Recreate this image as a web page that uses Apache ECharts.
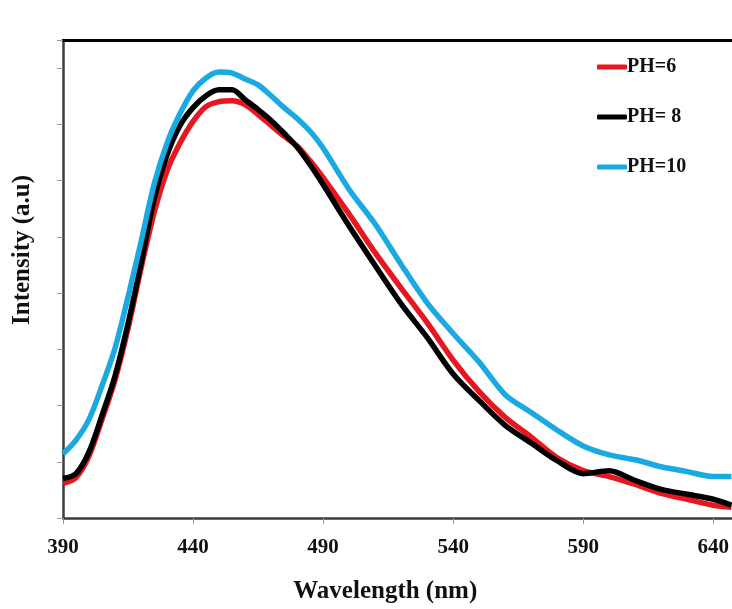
<!DOCTYPE html>
<html>
<head>
<meta charset="utf-8">
<script src="https://cdn.jsdelivr.net/npm/echarts@6/dist/echarts.min.js"></script>
<style>
    html, body { margin: 0; padding: 0; background: #fff; }
    #chart { width: 732px; height: 609px; }
</style>
</head>
<body>
<div id="chart"></div>
<script>
    // wavelength (nm) for every sample
    const wavelengths = [390, 395, 400, 405, 410, 415, 420, 425, 430, 435, 440, 445, 450, 455, 460, 465, 470, 475, 480, 485, 490,
        500, 510, 520, 530, 540, 550, 560, 570, 580, 590, 600, 610, 620, 630, 640, 647];

    // intensity (a.u)
    const ph6 = [0.614, 0.719, 1.105, 1.754, 2.456, 3.368, 4.439, 5.421, 6.175, 6.667, 7.053, 7.316, 7.404, 7.421, 7.351, 7.175, 6.982, 6.789, 6.614, 6.351, 6.053,
        5.404, 4.719, 4.088, 3.474, 2.807, 2.246, 1.789, 1.439, 1.070, 0.842, 0.737, 0.596, 0.439, 0.333, 0.228, 0.193];
    const ph8 = [0.702, 0.789, 1.175, 1.825, 2.526, 3.456, 4.526, 5.667, 6.456, 6.982, 7.298, 7.509, 7.614, 7.614, 7.439, 7.263, 7.070, 6.842, 6.596, 6.281, 5.930,
        5.193, 4.491, 3.807, 3.211, 2.561, 2.088, 1.649, 1.333, 1.018, 0.789, 0.842, 0.667, 0.509, 0.421, 0.333, 0.228];
    const ph10 = [1.140, 1.386, 1.754, 2.351, 3.018, 3.930, 4.912, 5.930, 6.667, 7.193, 7.596, 7.825, 7.930, 7.912, 7.807, 7.702, 7.509, 7.298, 7.105, 6.877, 6.579,
        5.842, 5.228, 4.509, 3.825, 3.281, 2.772, 2.193, 1.877, 1.561, 1.281, 1.123, 1.035, 0.912, 0.825, 0.737, 0.737];

    const legendNames = ["PH=6", "PH= 8", "PH=10"];
    const colors = ["#e8161e", "#000000", "#1ba9e1"];

    const font = "'Liberation Serif', 'Times New Roman', serif";

    function pairs(ys) {
        return wavelengths.map((x, i) => [x, ys[i]]);
    }

    const chart = echarts.init(document.getElementById("chart"));

    const option = {
        animation: false,
        backgroundColor: "#fff",
        grid: {
            left: 63,
            right: 0,
            top: 40,
            bottom: 84
        },
        legend: {
            orient: "vertical",
            left: 592,
            top: 52,
            itemGap: 30,
            itemWidth: 30,
            itemHeight: 5,
            icon: "roundRect",
            textStyle: {
                fontFamily: font,
                fontWeight: "bold",
                fontSize: 20,
                color: "#111",
                padding: [0, 0, 0, -5]
            },
            data: legendNames
        },
        xAxis: [
            {
                type: "value",
                min: 390,
                max: 647,
                interval: 50,
                name: "Wavelength (nm)",
                nameLocation: "middle",
                nameGap: 61,
                nameTextStyle: {
                    fontFamily: font,
                    fontWeight: "bold",
                    fontSize: 25,
                    color: "#111",
                    padding: [0, 24, 0, 0]
                },
                axisLine: { lineStyle: { color: "#3c3c3c", width: 2.5 } },
                axisTick: { show: true, inside: false, length: 6, lineStyle: { color: "#999" } },
                axisLabel: {
                    showMaxLabel: false,
                    margin: 19,
                    fontFamily: font,
                    fontWeight: "bold",
                    fontSize: 21,
                    color: "#111"
                },
                splitLine: { show: false }
            },
            {
                type: "value",
                position: "top",
                min: 390,
                max: 647,
                axisLine: { show: true, onZero: false, lineStyle: { color: "#000", width: 3 } },
                axisTick: { show: false },
                axisLabel: { show: false },
                splitLine: { show: false }
            }
        ],
        yAxis: {
            type: "value",
            min: 0,
            max: 8.5,
            interval: 1,
            name: "Intensity (a.u)",
            nameLocation: "middle",
            nameGap: 28,
            nameTextStyle: {
                fontFamily: font,
                fontWeight: "bold",
                fontSize: 25,
                color: "#111",
                padding: [0, 0, 0, 58]
            },
            axisLine: { show: true, lineStyle: { color: "#3c3c3c", width: 2.5 } },
            axisTick: { show: true, inside: false, length: 6, lineStyle: { color: "#999" } },
            axisLabel: { show: false },
            splitLine: { show: false }
        },
        series: [ph6, ph8, ph10].map((ys, i) => ({
            name: legendNames[i],
            type: "line",
            xAxisIndex: 0,
            symbol: "none",
            smooth: 0.3,
            color: colors[i],
            lineStyle: { width: 5.5, color: colors[i] },
            data: pairs(ys)
        }))
    };

    chart.setOption(option);
</script>
</body>
</html>
